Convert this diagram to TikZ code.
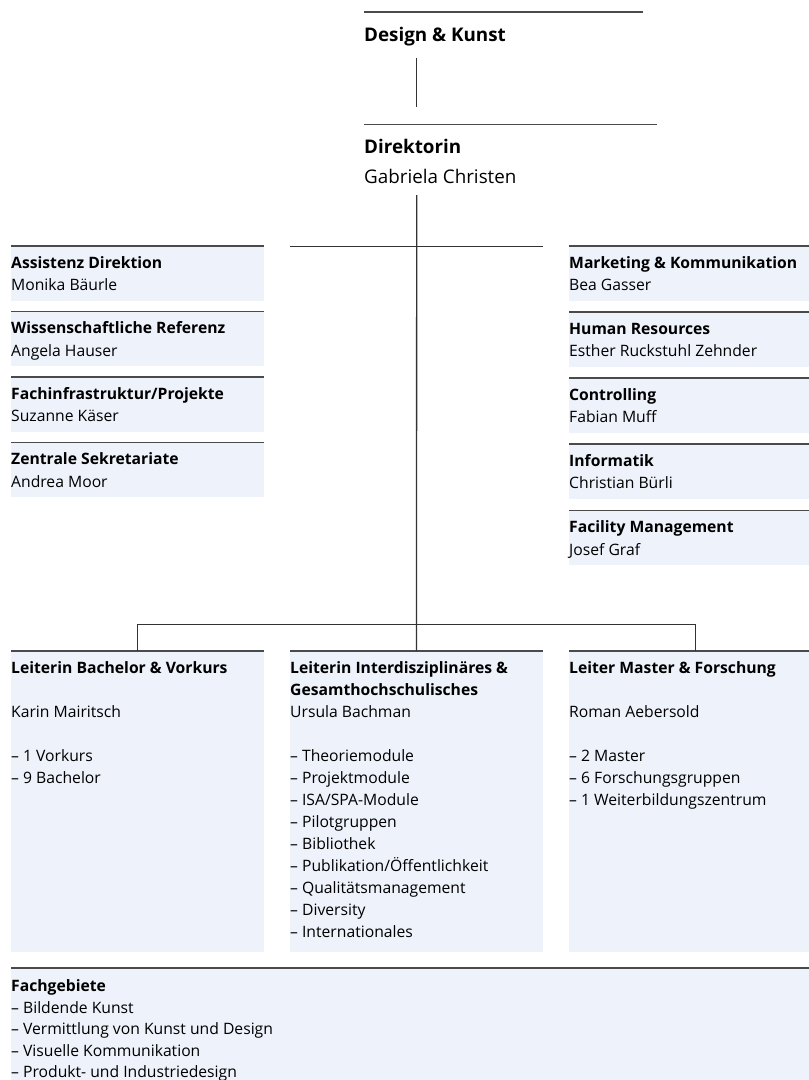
\documentclass[tikz,border=0pt]{standalone}
\usepackage{fontspec}
\setmainfont{Open Sans}
\definecolor{boxfill}{HTML}{EEF2FB}
\definecolor{rulegray}{HTML}{4A4A4A}
\definecolor{conngray}{HTML}{333333}
\begin{document}
\begin{tikzpicture}[x=1pt,y=-1pt,
  box/.style={fill=boxfill, draw=none, inner sep=0pt, outer sep=0pt, anchor=north west, minimum width=253pt, minimum height=54.5pt},
  tallbox/.style={box, minimum height=300.5pt},
  toprule/.style={draw=rulegray, line width=1.5pt},
  conn/.style={draw=conngray, line width=1.3pt},
  head/.style={anchor=base west, inner sep=0pt, font=\fontsize{15.7}{22}\selectfont\bfseries},
  txt/.style={anchor=base west, inner sep=0pt, font=\fontsize{15.7}{22}\selectfont},
  bighead/.style={anchor=base west, inner sep=0pt, font=\fontsize{18.8}{30}\selectfont\bfseries},
  bigtxt/.style={anchor=base west, inner sep=0pt, font=\fontsize{18.8}{30}\selectfont}]
\useasboundingbox (0,0) rectangle (809,1080);
\clip (0,0) rectangle (809,1080);

% ---- top: Design & Kunst
\coordinate (dkL) at (364,12);
\coordinate (dkR) at (643,12);
\draw[toprule] (dkL) -- (dkR);
\node[bighead] (dk) at (364,41.7) {Design \& Kunst};
\coordinate (dkdown) at (416.7,58);
\coordinate (dirup) at (416.7,107);
\draw[conn] (dkdown) -- (dirup);

% ---- Direktorin
\coordinate (dirL) at (364,124.3);
\coordinate (dirR) at (656.5,124.3);
\draw[toprule] (dirL) -- (dirR);
\node[bighead] (dir) at (364,153.3) {Direktorin};
\node[bigtxt] (dirname) at (364,183.3) {Gabriela Christen};

% ---- staff boxes left
\node[box] (l1) at (11,246) {};
\node[box] (l2) at (11,311.5) {};
\node[box] (l3) at (11,377) {};
\node[box] (l4) at (11,442.5) {};
\foreach \b in {l1,l2,l3,l4} \draw[toprule] (\b.north west) -- (\b.north east);
\node[head] (l1h) at (11,268.3) {Assistenz Direktion};
\node[txt]  (l1t) at (11,290.5) {Monika Bäurle};
\node[head] (l2h) at (11,333.8) {Wissenschaftliche Referenz};
\node[txt]  (l2t) at (11,356) {Angela Hauser};
\node[head] (l3h) at (11,399.3) {Fachinfrastruktur/Projekte};
\node[txt]  (l3t) at (11,421.5) {Suzanne Käser};
\node[head] (l4h) at (11,464.8) {Zentrale Sekretariate};
\node[txt]  (l4t) at (11,487) {Andrea Moor};

% ---- staff boxes right
\node[box] (r1) at (569,246) {};
\node[box] (r2) at (569,312) {};
\node[box] (r3) at (569,378) {};
\node[box] (r4) at (569,444) {};
\node[box] (r5) at (569,510.5) {};
\foreach \b in {r1,r2,r3,r4,r5} \draw[toprule] (\b.north west) -- (\b.north east);
\node[head] (r1h) at (569,268.3) {Marketing \& Kommunikation};
\node[txt]  (r1t) at (569,290.5) {Bea Gasser};
\node[head] (r2h) at (569,334.3) {Human Resources};
\node[txt]  (r2t) at (569,356.5) {Esther Ruckstuhl Zehnder};
\node[head] (r3h) at (569,400.3) {Controlling};
\node[txt]  (r3t) at (569,422.5) {Fabian Muff};
\node[head] (r4h) at (569,466.3) {Informatik};
\node[txt]  (r4t) at (569,488.5) {Christian Bürli};
\node[head] (r5h) at (569,532.8) {Facility Management};
\node[txt]  (r5t) at (569,555) {Josef Graf};

% ---- trunk and staff line
\coordinate (trunk) at (416.7,195);
\coordinate (staffL) at (290,246.7);
\coordinate (staffR) at (543,246.7);
\draw[conn] (staffL) -- (staffR);

% ---- departments
\node[tallbox] (b1) at (11,651) {};
\node[tallbox] (b2) at (290,651) {};
\node[tallbox] (b3) at (569,651) {};
\foreach \b in {b1,b2,b3} \draw[toprule] (\b.north west) -- (\b.north east);

\coordinate (branchL) at (b1.north |- 0,624.3);
\coordinate (branchR) at (b3.north |- 0,624.3);
\draw[conn] (trunk) -- (b2.north);
\draw[conn] (b1.north) -- (branchL) -- (branchR) -- (b3.north);

\node[head] (b1h) at (11,673.3) {Leiterin Bachelor \& Vorkurs};
\node[txt]  (b1t) at (11,717.3) {Karin Mairitsch};
\node[txt]  (b1a) at (11,761.3) {– 1 Vorkurs};
\node[txt]  (b1b) at (11,783.3) {– 9 Bachelor};

\node[head] (b2h) at (290,673.3) {Leiterin Interdisziplinäres \&};
\node[head] (b2g) at (290,695.3) {Gesamthochschulisches};
\node[txt]  (b2t) at (290,717.3) {Ursula Bachman};
\foreach \t [count=\i from 0] in {Theoriemodule,Projektmodule,ISA/SPA-Module,Pilotgruppen,Bibliothek,Publikation/Öffentlichkeit,Qualitätsmanagement,Diversity,Internationales}
  \node[txt] (b2l\i) at (290,761.3+22*\i) {– \t};

\node[head] (b3h) at (569,673.3) {Leiter Master \& Forschung};
\node[txt]  (b3t) at (569,717.3) {Roman Aebersold};
\node[txt]  (b3a) at (569,761.3) {– 2 Master};
\node[txt]  (b3b) at (569,783.3) {– 6 Forschungsgruppen};
\node[txt]  (b3c) at (569,805.3) {– 1 Weiterbildungszentrum};

% ---- Fachgebiete
\node[box, minimum width=798pt, minimum height=140pt] (fg) at (11,968) {};
\draw[toprule] (fg.north west) -- (fg.north east);
\node[head] (fgh) at (11,991.5) {Fachgebiete};
\foreach \t [count=\i from 0] in {Bildende Kunst,Vermittlung von Kunst und Design,Visuelle Kommunikation,Produkt- und Industriedesign}
  \node[txt] (fgl\i) at (11,1013+21.5*\i) {– \t};
\end{tikzpicture}
\end{document}
